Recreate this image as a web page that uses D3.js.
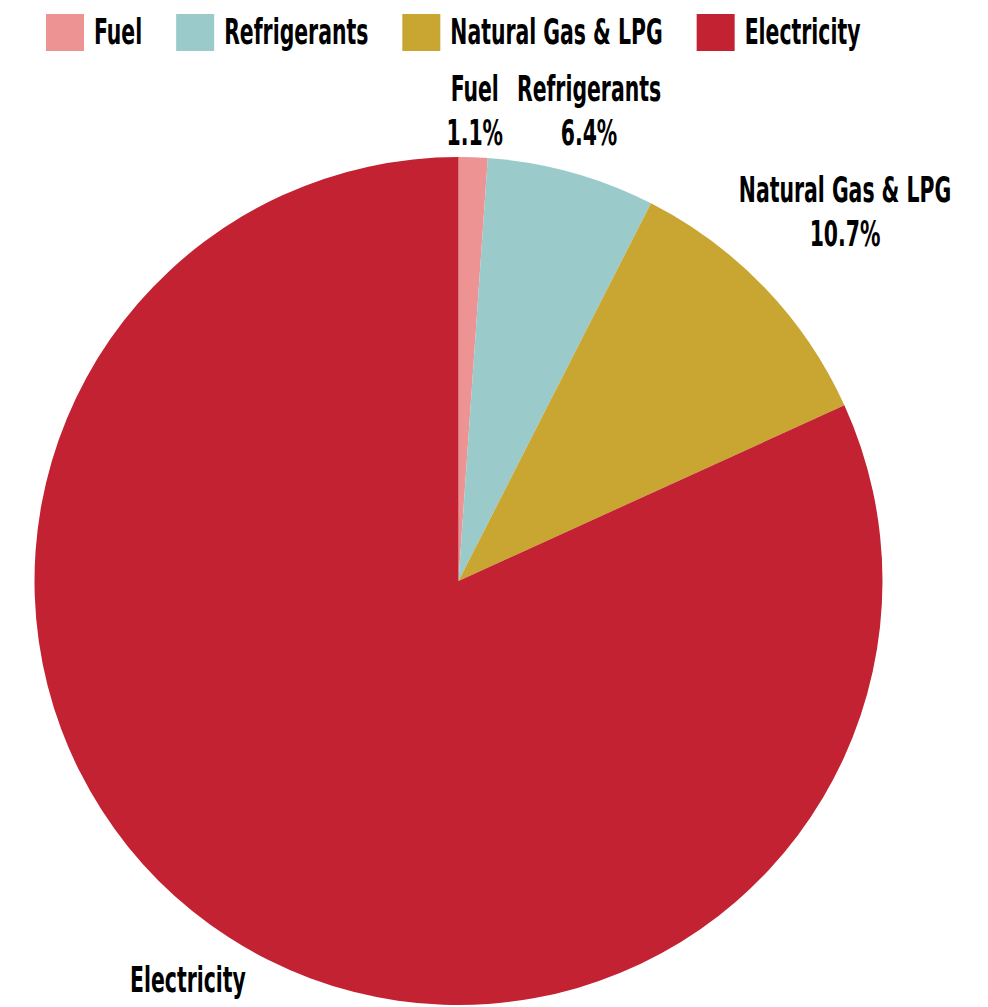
<!DOCTYPE html>
<html>
<head>
<meta charset="utf-8">
<script src="https://cdn.jsdelivr.net/npm/d3@7.9.0/dist/d3.min.js"></script>
<style>
  body { margin: 0; background: #fff; }
  svg text { font-family: "DejaVu Sans Condensed", "Liberation Sans Narrow", sans-serif; font-weight: bold; fill: #000; }
</style>
</head>
<body>
<svg id="chart" width="988" height="1007"></svg>
<script>
const categories = ['Fuel', 'Refrigerants', 'Natural Gas & LPG', 'Electricity'];
const shares = [1.1, 6.4, 10.7, 81.8];
const colours = ['#ed9394', '#9bcacb', '#c9a631', '#c32232'];
// distance of each outside label from the centre, picked so they clear each other
const labelRadius = [471, 489, 535, 500];

const width = 988, height = 1007;
const cx = 458.5, cy = 581, radius = 424;
const fontSize = 36, squeeze = 0.63;

const data = categories.map((c, i) => ({ label: c, value: shares[i] }));

const svg = d3.select('#chart');

const colour = d3.scaleOrdinal().domain(categories).range(colours);

const pie = d3.pie().value(d => d.value).sort(null);
const arc = d3.arc().innerRadius(0).outerRadius(radius);
const arcs = pie(data);

const g = svg.append('g').attr('transform', `translate(${cx},${cy})`);

g.selectAll('path')
  .data(arcs)
  .join('path')
  .attr('d', arc)
  .attr('fill', d => colour(d.data.label));

// labels sit on the middle angle of each slice
const labels = g.selectAll('g.label')
  .data(arcs)
  .join('g')
  .attr('class', 'label')
  .attr('transform', (d, i) => {
    const a = (d.startAngle + d.endAngle) / 2;
    const r = labelRadius[i];
    return `translate(${r * Math.sin(a)},${-r * Math.cos(a)}) scale(${squeeze},1)`;
  });

labels.append('text')
  .attr('text-anchor', 'middle')
  .attr('y', -9)
  .attr('font-size', fontSize)
  .text(d => d.data.label);

labels.append('text')
  .attr('text-anchor', 'middle')
  .attr('y', 35)
  .attr('font-size', fontSize)
  .text(d => d3.format('.1f')(d.data.value) + '%');

// legend across the top
const legend = svg.append('g').attr('class', 'legend');
let x = 46;
categories.forEach(c => {
  legend.append('rect')
    .attr('x', x).attr('y', 14)
    .attr('width', 38).attr('height', 37)
    .attr('fill', colour(c));
  const t = legend.append('text')
    .attr('transform', `translate(${x + 48},44) scale(${squeeze},1)`)
    .attr('font-size', fontSize)
    .text(c);
  x += 48 + t.node().getComputedTextLength() * squeeze + 34;
});
</script>
</body>
</html>
